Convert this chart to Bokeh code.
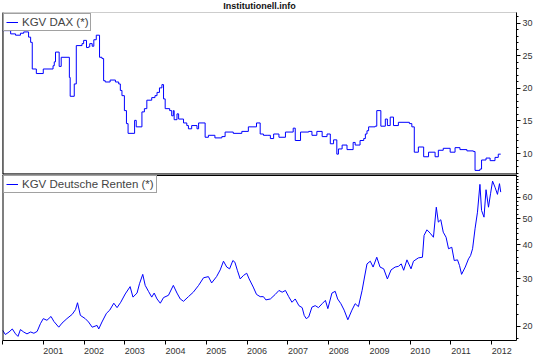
from bokeh.plotting import figure
from bokeh.layouts import column
from bokeh.models import (Range1d, FixedTicker, Span, Legend, LegendItem,
                          CustomJSTickFormatter)
from bokeh.embed import file_html
from bokeh.resources import INLINE

# ---- data (fractional years) ----
dax_year = [2000.00, 2000.20, 2000.32, 2000.44, 2000.52, 2000.64, 2000.69, 2000.73, 2000.83,
            2001.00, 2001.24, 2001.27, 2001.30, 2001.39, 2001.44, 2001.64, 2001.66, 2001.76,
            2001.81, 2001.95, 2001.99, 2002.06, 2002.11, 2002.14, 2002.20, 2002.24, 2002.30,
            2002.38, 2002.44, 2002.48, 2002.52, 2002.64, 2002.77, 2002.85, 2002.89, 2002.93,
            2002.99, 2003.04, 2003.08, 2003.24, 2003.28, 2003.42, 2003.48, 2003.54, 2003.66,
            2003.74, 2003.79, 2003.85, 2003.91, 2003.95, 2003.99, 2004.10, 2004.15, 2004.19,
            2004.21, 2004.28, 2004.32, 2004.44, 2004.52, 2004.56, 2004.64, 2004.77, 2004.81,
            2004.97, 2005.05, 2005.21, 2005.38, 2005.46, 2005.66, 2005.87, 2006.03, 2006.23,
            2006.32, 2006.40, 2006.49, 2006.57, 2006.65, 2006.78, 2006.94, 2007.13, 2007.18,
            2007.31, 2007.51, 2007.59, 2007.71, 2007.84, 2007.96, 2008.04, 2008.12, 2008.20,
            2008.24, 2008.33, 2008.45, 2008.60, 2008.65, 2008.77, 2008.86, 2008.90, 2008.94,
            2008.98, 2009.14, 2009.18, 2009.28, 2009.39, 2009.44, 2009.51, 2009.59, 2009.71,
            2009.98, 2010.04, 2010.10, 2010.20, 2010.33, 2010.45, 2010.61, 2010.69, 2010.81,
            2010.98, 2011.10, 2011.22, 2011.39, 2011.55, 2011.59, 2011.71, 2011.75, 2011.86,
            2011.96, 2012.08, 2012.16, 2012.22]
dax_kgv = [28.9, 28.4, 28.2, 28.5, 28.7, 27.9, 27.1, 23.0, 22.3,
           23.0, 23.5, 24.1, 25.6, 23.4, 24.8, 21.7, 18.8, 20.7,
           26.6, 26.9, 27.4, 26.3, 26.4, 26.9, 26.5, 27.5, 28.2,
           24.8, 24.6, 21.2, 21.0, 21.3, 21.0, 20.7, 19.7, 18.9,
           16.6, 14.6, 13.1, 15.1, 14.1, 16.4, 16.9, 18.2, 18.6,
           18.9, 19.4, 20.1, 20.6, 18.4, 16.9, 16.6, 15.8, 16.6,
           15.2, 16.1, 15.3, 14.7, 14.3, 13.8, 14.3, 13.8, 14.7,
           12.5, 12.8, 12.4, 12.6, 13.3, 13.1, 13.4, 14.1, 14.7,
           13.0, 12.8, 12.8, 12.3, 13.0, 12.5, 13.3, 13.9, 12.0,
           13.3, 13.4, 12.8, 13.4, 12.6, 13.0, 11.5, 12.1, 9.9,
           10.7, 11.3, 10.6, 11.7, 11.3, 12.0, 12.3, 13.0, 13.5,
           14.1, 14.2, 16.6, 14.2, 15.3, 14.3, 15.6, 14.3, 14.8,
           14.6, 14.1, 10.2, 11.0, 9.5, 10.2, 9.5, 10.5, 10.8,
           10.2, 10.9, 10.6, 10.4, 10.3, 7.4, 7.6, 9.0, 9.3,
           8.9, 9.4, 9.9, 9.9]

renten_year = [2000.00, 2000.07, 2000.16, 2000.24, 2000.32, 2000.38, 2000.44, 2000.52, 2000.60,
               2000.69, 2000.77, 2000.85, 2000.93, 2001.00, 2001.09, 2001.19, 2001.26, 2001.38,
               2001.46, 2001.58, 2001.71, 2001.79, 2001.84, 2001.91, 2002.03, 2002.11, 2002.20,
               2002.32, 2002.36, 2002.44, 2002.55, 2002.63, 2002.73, 2002.81, 2002.90, 2003.01,
               2003.13, 2003.20, 2003.30, 2003.36, 2003.44, 2003.50, 2003.58, 2003.66, 2003.72,
               2003.79, 2003.87, 2003.95, 2004.07, 2004.19, 2004.28, 2004.36, 2004.44, 2004.56,
               2004.68, 2004.81, 2004.93, 2005.05, 2005.13, 2005.25, 2005.34, 2005.42, 2005.50,
               2005.57, 2005.65, 2005.70, 2005.76, 2005.83, 2005.91, 2005.99, 2006.05, 2006.15,
               2006.23, 2006.32, 2006.40, 2006.46, 2006.57, 2006.69, 2006.78, 2006.86, 2006.94,
               2007.02, 2007.10, 2007.18, 2007.27, 2007.35, 2007.40, 2007.45, 2007.51, 2007.59,
               2007.67, 2007.75, 2007.84, 2007.92, 2007.98, 2008.08, 2008.16, 2008.22, 2008.30,
               2008.38, 2008.47, 2008.57, 2008.65, 2008.73, 2008.82, 2008.88, 2008.94, 2009.02,
               2009.09, 2009.18, 2009.26, 2009.35, 2009.44, 2009.53, 2009.63, 2009.71, 2009.78,
               2009.84, 2009.92, 2010.02, 2010.08, 2010.20, 2010.30, 2010.34, 2010.41, 2010.49,
               2010.57, 2010.64, 2010.69, 2010.75, 2010.81, 2010.88, 2010.94, 2011.02, 2011.08,
               2011.16, 2011.21, 2011.26, 2011.35, 2011.43, 2011.48, 2011.53, 2011.59, 2011.65,
               2011.71, 2011.75, 2011.81, 2011.86, 2011.92, 2011.97, 2012.02, 2012.08, 2012.14,
               2012.19, 2012.22]
renten_kgv = [19.3, 18.6, 19.0, 19.5, 18.7, 18.3, 19.4, 19.0, 18.7,
              19.0, 18.8, 19.1, 20.4, 21.3, 21.0, 21.7, 20.8, 19.8,
              20.5, 21.3, 22.1, 23.0, 24.4, 21.9, 21.3, 20.7, 19.8,
              20.1, 19.5, 20.7, 22.3, 22.9, 24.3, 23.4, 24.5, 26.3,
              28.0, 25.6, 26.5, 28.7, 31.1, 28.3, 26.9, 25.6, 26.5,
              25.2, 24.3, 25.5, 26.0, 28.3, 26.5, 25.2, 24.7, 25.7,
              26.7, 28.3, 30.2, 30.5, 28.9, 30.5, 32.3, 34.8, 33.1,
              32.6, 35.0, 34.5, 32.2, 29.9, 30.8, 31.4, 29.9, 27.9,
              26.2, 25.7, 25.7, 25.0, 25.2, 26.2, 27.1, 26.7, 27.1,
              25.7, 24.5, 25.2, 23.8, 23.4, 21.9, 21.3, 21.6, 23.5,
              23.8, 23.4, 24.2, 24.9, 23.2, 26.5, 26.9, 25.2, 24.2,
              22.9, 21.1, 22.9, 24.2, 23.6, 27.1, 30.4, 34.0, 34.8,
              33.1, 36.0, 33.1, 32.6, 29.9, 32.3, 33.1, 33.3, 34.0,
              32.2, 35.2, 32.6, 34.8, 35.8, 36.0, 43.4, 45.5, 44.2,
              42.7, 55.2, 48.6, 49.6, 44.6, 42.7, 38.7, 39.2, 35.0,
              35.2, 33.5, 31.1, 33.1, 35.5, 36.5, 38.7, 45.9, 52.9,
              67.1, 53.7, 50.7, 64.1, 55.2, 61.9, 69.0, 65.5, 61.6,
              67.5, 62.8]

year_ticks = list(range(2000, 2013))          # tick marks at the start of each year
label_years = list(range(2001, 2013))         # labelled years
dax_ticks = [10, 15, 20, 25, 30]
renten_ticks = [20, 30, 40, 50, 60]

FONT = "Liberation Sans"
LINE = "#0000ff"
LBL = "#333333"

x0, x1 = 2000.0, 2012.607
top_lo, top_hi = 6.77, 31.69
bot_lo, bot_hi = 17.67, 73.0
LABEL_SHIFT = 0.245   # labels start at the tick (text drawn to the right of it)


def style_yaxis(ax, ticks, minors):
    ax.ticker = FixedTicker(ticks=ticks, minor_ticks=minors)
    ax.major_tick_out = 4
    ax.major_tick_in = 0
    ax.minor_tick_out = 2
    ax.minor_tick_in = 0
    ax.axis_line_color = "black"
    ax.major_tick_line_color = "black"
    ax.minor_tick_line_color = "black"
    ax.major_label_text_font = FONT
    ax.major_label_text_font_size = "9px"
    ax.major_label_text_color = LBL
    ax.major_label_standoff = 2


def style_legend(p, label, r):
    lg = Legend(items=[LegendItem(label=label, renderers=[r])], location="top_left")
    lg.margin = 1
    lg.padding = 2
    lg.spacing = 0
    lg.label_text_font = FONT
    lg.label_text_font_size = "11.5px"
    lg.label_height = 12
    lg.glyph_width = 12
    lg.glyph_height = 12
    lg.label_standoff = 4
    lg.border_line_color = "#444444"
    lg.border_line_width = 1
    lg.background_fill_alpha = 1
    p.add_layout(lg)


xr = Range1d(x0, x1)

top = figure(width=535, height=174, x_range=xr, y_range=Range1d(top_lo, top_hi),
             y_axis_location="right", output_backend="svg", toolbar_location=None,
             min_border_top=12, min_border_bottom=0, min_border_left=2, min_border_right=18,
             title="Institutionell.info")
top.title.align = "center"
top.title.vertical_align = "top"
top.title.text_font = FONT
top.title.text_font_size = "9px"
top.title.text_font_style = "bold"
top.title.text_color = "#111111"
top.title.standoff = 0
top.title.offset = 8
top.xaxis.visible = False
top.grid.visible = False
top.outline_line_color = "#9a9a9a"
top.outline_line_dash = "1 1"
top.outline_line_width = 1
style_yaxis(top.yaxis[0], dax_ticks, list(range(7, 32)))
r1 = top.step(dax_year, dax_kgv, mode="after", line_color=LINE, line_width=1)
top.add_layout(Span(location=x0, dimension="height", line_color="black", line_width=2))
top.add_layout(Span(location=top_lo, dimension="width", line_color="black", line_width=2))
style_legend(top, "KGV DAX (*)", r1)

bot = figure(width=535, height=183, x_range=xr, y_range=Range1d(bot_lo, bot_hi),
             y_axis_type="log", y_axis_location="right", output_backend="svg",
             toolbar_location=None, min_border_top=0, min_border_bottom=17,
             min_border_left=2, min_border_right=18)
bot.grid.visible = False
bot.outline_line_color = None
style_yaxis(bot.yaxis[0], renten_ticks,
            [18, 22, 24, 26, 28, 32, 34, 36, 38, 42, 44, 46, 48, 52, 54, 56, 58,
             62, 64, 66, 68, 70, 72])
xa = bot.xaxis[0]
# labelled (major) ticks sit a little right of each year start and have no mark;
# the visible tick marks are minor ticks at the year starts
xa.ticker = FixedTicker(ticks=[y + LABEL_SHIFT for y in label_years], minor_ticks=year_ticks)
xa.formatter = CustomJSTickFormatter(code="return Math.floor(tick).toString()")
xa.major_tick_out = 0
xa.major_tick_in = 0
xa.minor_tick_out = 4
xa.minor_tick_in = 0
xa.axis_line_color = "black"
xa.minor_tick_line_color = "black"
xa.major_label_text_font = FONT
xa.major_label_text_font_size = "9px"
xa.major_label_text_color = LBL
xa.major_label_standoff = 3
r2 = bot.line(renten_year, renten_kgv, line_color=LINE, line_width=1)
bot.add_layout(Span(location=x0, dimension="height", line_color="black", line_width=2))
bot.add_layout(Span(location=bot_hi, dimension="width", line_color="black", line_width=3))
style_legend(bot, "KGV Deutsche Renten (*)", r2)

layout = column(top, bot, spacing=0)

open("out.html", "w").write(file_html(layout, INLINE))
